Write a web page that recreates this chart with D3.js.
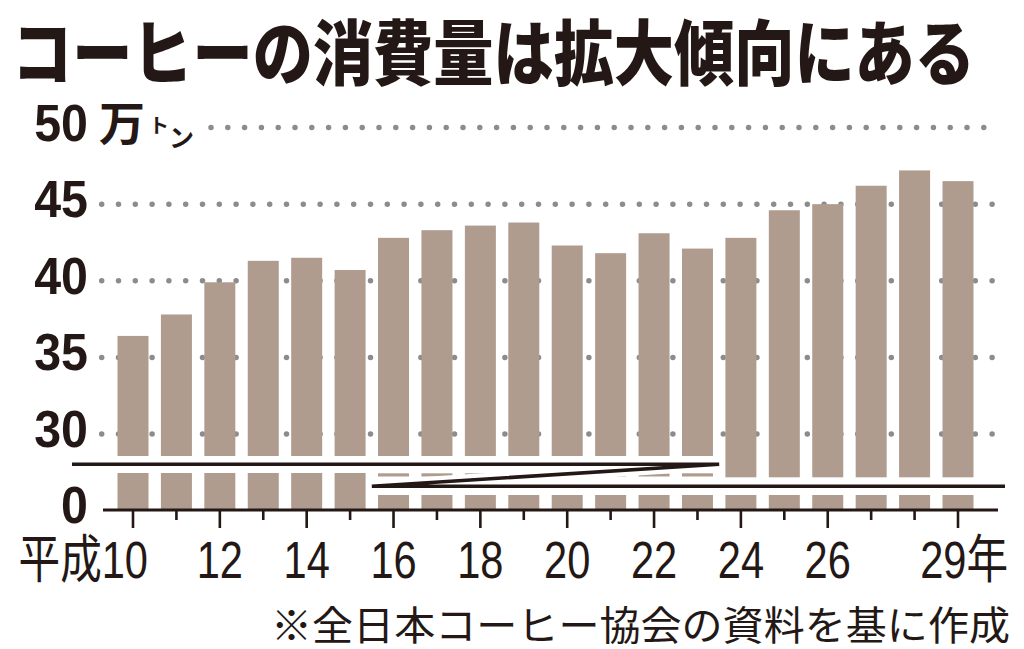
<!DOCTYPE html>
<html>
<head>
<meta charset="utf-8">
<script src="https://cdn.jsdelivr.net/npm/d3@7"></script>
<style>
  html, body { margin: 0; padding: 0; background: #fff; }
  svg { display: block; }
</style>
</head>
<body>
<div id="chart"></div>
<script>
// data: coffee consumption (万トン), Heisei 10 .. 29
const years = [10, 11, 12, 13, 14, 15, 16, 17, 18, 19, 20, 21, 22, 23, 24, 25, 26, 27, 28, 29];
const consumption = [36.4, 37.8, 39.9, 41.3, 41.5, 40.7, 42.8, 43.3, 43.6, 43.8,
                     42.3, 41.8, 43.1, 42.1, 42.8, 44.6, 45.0, 46.2, 47.2, 46.5];
const yTicks = [0, 30, 35, 40, 45, 50];
const gridTicks = [30, 35, 40, 45, 50];
const labelYears = [10, 12, 14, 16, 18, 20, 22, 24, 26, 29];
const labelTexts = ["平成10", "12", "14", "16", "18", "20", "22", "24", "26", "29年"];

const title = "コーヒーの消費量は拡大傾向にある";
const source = "※全日本コーヒー協会の資料を基に作成";

const width = 1024, height = 649;
const ink = "#231815";
const barColor = "#b09c8f";
const dotColor = "#8c8c8c";

const svg = d3.select("#chart").append("svg")
  .attr("width", width)
  .attr("height", height);

// scales
const x = d3.scalePoint().domain(years).range([133, 958]);
const step = x.step();
const barW = 31;
// broken axis: 0 at the baseline, 30..50 in the upper part
const y = d3.scaleLinear().domain([0, 30, 50]).range([510, 434, 127.5]);

// title
svg.append("text")
  .attr("x", 12).attr("y", 79)
  .attr("textLength", 963)
  .attr("lengthAdjust", "spacingAndGlyphs")
  .attr("font-family", "'Noto Sans CJK JP'")
  .attr("font-weight", 900)
  .attr("font-size", 71)
  .attr("fill", ink)
  .text(title);

// dotted gridlines
svg.append("g")
  .selectAll("line")
  .data(gridTicks)
  .join("line")
  .attr("x1", d => d === 50 ? 211 : 101.7)
  .attr("x2", 995)
  .attr("y1", d => y(d))
  .attr("y2", d => y(d))
  .attr("stroke", dotColor)
  .attr("stroke-width", 5.5)
  .attr("stroke-linecap", "round")
  .attr("stroke-dasharray", "0 16.8");

// bars
svg.append("g")
  .selectAll("rect")
  .data(years)
  .join("rect")
  .attr("x", d => x(d) - barW / 2)
  .attr("width", barW)
  .attr("y", (d, i) => y(consumption[i]))
  .attr("height", (d, i) => y(0) - y(consumption[i]))
  .attr("fill", barColor);

// axis break: white gaps + black break lines
const bx0 = 72;
const bxL = x(15) + step / 2;   // between 15 and 16
const bxR = x(23) + step / 2;   // between 23 and 24
const bxEnd = 1005;
const gaps = [
  { x0: bx0, x1: bxL, y0: 456, y1: 473 },
  { x0: bxL, x1: bxR, y0: 456, y1: 473.3 },
  { x0: bxL, x1: bxR, y0: 476.5, y1: 495 },
  { x0: bxR, x1: bxEnd, y0: 477.3, y1: 495 }
];
svg.append("g")
  .selectAll("rect")
  .data(gaps)
  .join("rect")
  .attr("x", d => d.x0)
  .attr("y", d => d.y0)
  .attr("width", d => d.x1 - d.x0)
  .attr("height", d => d.y1 - d.y0)
  .attr("fill", "#fff");

// white halo behind the slanted break line
svg.append("line")
  .attr("x1", bxL).attr("y1", 486.3)
  .attr("x2", bxR).attr("y2", 464.3)
  .attr("stroke", "#fff")
  .attr("stroke-width", 12);

const breakPath = d3.path();
breakPath.moveTo(bx0, 464.3); breakPath.lineTo(bxR, 464.3);
breakPath.moveTo(bxL, 486.3); breakPath.lineTo(bxR, 464.3);
breakPath.moveTo(bxL, 486.3); breakPath.lineTo(bxEnd, 486.3);
svg.append("path")
  .attr("d", breakPath.toString())
  .attr("fill", "none")
  .attr("stroke", ink)
  .attr("stroke-width", 3.6)
  .attr("stroke-linejoin", "miter");

// x axis
svg.append("line")
  .attr("x1", 103).attr("x2", 998)
  .attr("y1", y(0)).attr("y2", y(0))
  .attr("stroke", ink)
  .attr("stroke-width", 3);

svg.append("g")
  .selectAll("line")
  .data(years)
  .join("line")
  .attr("x1", d => x(d)).attr("x2", d => x(d))
  .attr("y1", y(0))
  .attr("y2", d => y(0) + (labelYears.includes(d) ? 18 : 10))
  .attr("stroke", ink)
  .attr("stroke-width", 2.6);

svg.append("g")
  .selectAll("text")
  .data(labelYears)
  .join("text")
  .attr("transform", (d, i) => {
    let px = x(d);
    if (i === 0) px = x(d) + 15;
    if (i === labelYears.length - 1) px = 1008;
    return `translate(${px},578) scale(0.8,1)`;
  })
  .attr("text-anchor", (d, i) => i === 0 || i === labelYears.length - 1 ? "end" : "middle")
  .attr("font-family", "'Liberation Sans', 'Noto Sans CJK JP', sans-serif")
  .attr("font-size", 52)
  .attr("fill", ink)
  .text((d, i) => labelTexts[i]);

// y axis labels
svg.append("g")
  .selectAll("text")
  .data(yTicks)
  .join("text")
  .attr("transform", d => `translate(88,${y(d) + 13}) scale(0.93,1)`)
  .attr("text-anchor", "end")
  .attr("font-family", "'Liberation Sans', sans-serif")
  .attr("font-weight", 700)
  .attr("font-size", 52)
  .attr("fill", ink)
  .text(d => d);

// unit next to 50
const unit = svg.append("g").attr("fill", ink).attr("font-family", "'Noto Sans CJK JP'");
unit.append("text")
  .attr("x", 99).attr("y", y(50) + 12)
  .attr("font-size", 46).attr("font-weight", 700)
  .text("万");
unit.append("text")
  .attr("x", 149).attr("y", y(50) + 5)
  .attr("font-size", 20).attr("font-weight", 700)
  .text("ト");
unit.append("text")
  .attr("x", 169).attr("y", y(50) + 19)
  .attr("font-size", 25).attr("font-weight", 700)
  .text("ン");

// source note
svg.append("text")
  .attr("x", 271).attr("y", 640)
  .attr("textLength", 739)
  .attr("lengthAdjust", "spacingAndGlyphs")
  .attr("font-family", "'Noto Sans CJK JP'")
  .attr("font-size", 40)
  .attr("fill", ink)
  .text(source);
</script>
</body>
</html>
